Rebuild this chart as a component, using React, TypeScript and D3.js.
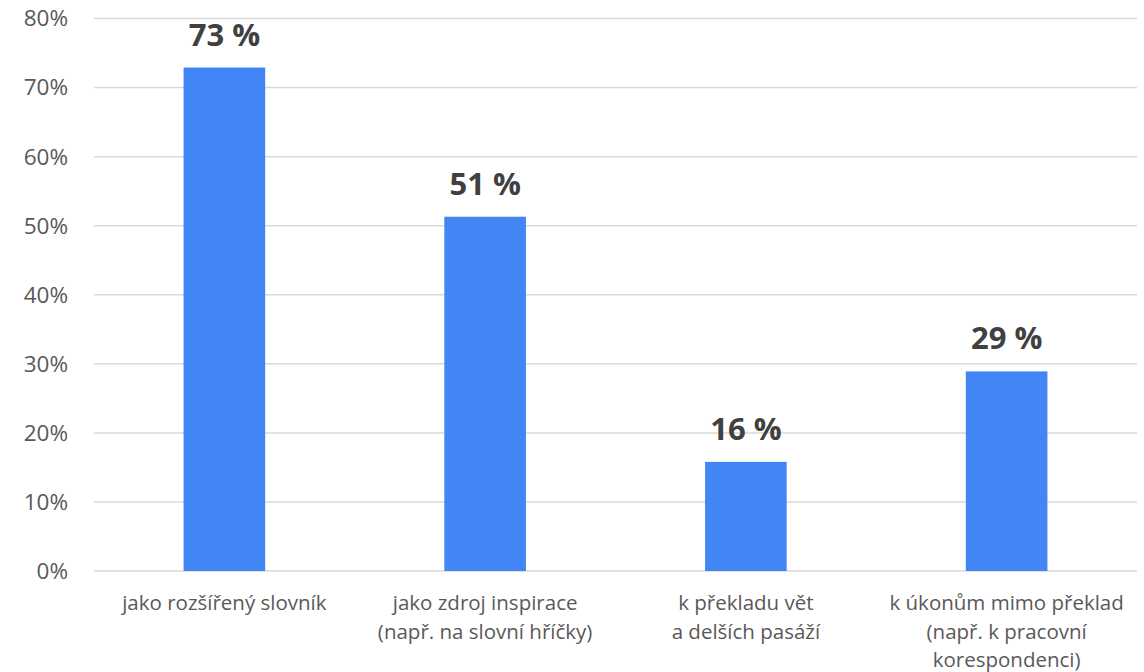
import React from "react";
import * as d3 from "d3";

const categories: string[][] = [
  ["jako rozšířený slovník"],
  ["jako zdroj inspirace", "(např. na slovní hříčky)"],
  ["k překladu vět", "a delších pasáží"],
  ["k úkonům mimo překlad", "(např. k pracovní", "korespondenci)"],
];
const values: number[] = [0.729, 0.513, 0.158, 0.289];
const valueLabels: string[] = ["73 %", "51 %", "16 %", "29 %"];
const yTicks: number[] = [0, 0.1, 0.2, 0.3, 0.4, 0.5, 0.6, 0.7, 0.8];

const W = 1144;
const H = 672;
const FONT = "'Open Sans', 'Noto Sans', sans-serif";

export default function App() {
  const x = d3
    .scaleBand<number>()
    .domain(d3.range(categories.length))
    .range([94, 1137])
    .paddingInner(0.687)
    .paddingOuter(0.3435);
  const y = d3.scaleLinear().domain([0, 0.8]).range([571, 18.5]);
  const fmt = d3.format(".0%");

  return (
    <svg
      width={W}
      height={H}
      style={{ position: "absolute", left: 0, top: 0, background: "#fff" }}
      fontFamily={FONT}
    >
      {yTicks.map((t) => (
        <g key={t}>
          <line
            x1={94}
            x2={1137}
            y1={y(t)}
            y2={y(t)}
            stroke="#d9d9d9"
            strokeWidth={1.5}
          />
          <text
            x={68}
            y={y(t)}
            dy="0.35em"
            textAnchor="end"
            fontSize={22.5}
            fill="#595959"
          >
            {fmt(t)}
          </text>
        </g>
      ))}
      {values.map((v, i) => {
        const bx = x(i)!;
        const bw = x.bandwidth();
        const cx = bx + bw / 2;
        return (
          <g key={i}>
            <rect x={bx} y={y(v)} width={bw} height={y(0) - y(v)} fill="#4285f4" />
            <text
              x={cx}
              y={y(v) - 22}
              textAnchor="middle"
              fontSize={31}
              fontWeight="bold"
              fill="#404040"
            >
              {valueLabels[i]}
            </text>
            {categories[i].map((line, j) => (
              <text
                key={j}
                x={cx}
                y={610 + j * 28.5}
                textAnchor="middle"
                fontSize={20.5}
                fill="#595959"
              >
                {line}
              </text>
            ))}
          </g>
        );
      })}
    </svg>
  );
}
